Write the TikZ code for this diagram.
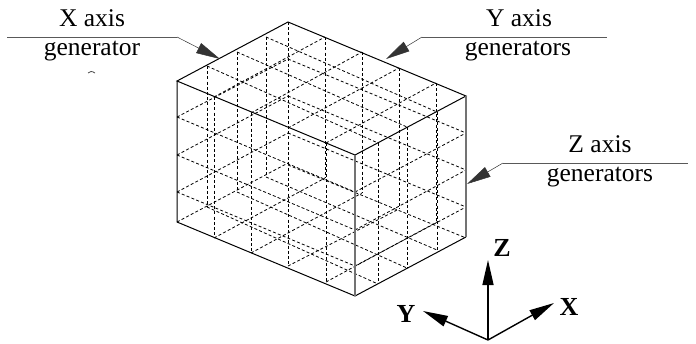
\documentclass[tikz,border=0pt]{standalone}
\usepackage{fontspec}
\setmainfont{Liberation Serif}
\usepackage{tikz}
\usetikzlibrary{arrows.meta}
\tikzset{
  gridline/.style={dash pattern=on 3pt off 2.2pt, line width=0.8pt, black},
  edgeline/.style={line width=1pt, black},
  greyedge/.style={line width=1.4pt, black!55},
  rulerline/.style={line width=1pt, black!65},
  leadarrow/.style={-{Triangle[length=24pt, width=11pt]}, line width=0.5pt, black!80},
  axisarrow/.style={-{Triangle[length=25pt, width=11pt]}, line width=1.4pt},
  calloutlabel/.style={font=\fontsize{25.5}{28}\selectfont, anchor=base, inner sep=0pt},
  axislabel/.style={font=\fontsize{26}{28}\selectfont\bfseries, inner sep=0pt}
}
\begin{document}
\begin{tikzpicture}[x=1pt, y=-1pt]
  \useasboundingbox (0,0) rectangle (696,343);
  % hidden grid: verticals
  \foreach \xa/\ya/\yb in {207/66/207, 237/52/192, 266/37/177, 288/22/266,
      325/37/178, 362/52/193, 399/68/209, 436/83/222,
      214/97/238, 251/113/253, 326/143/282,
      378/143/284, 407/127/268, 437/112/250}
    \draw[gridline] (\xa,\ya) -- (\xa,\yb);
  % hidden grid: sloped lines
  \foreach \xa/\ya/\xb/\yb in {
      177/117/355/192, 177/155/355/230, 177/192/355/266,
      288/59/466/133, 288/96/466/170, 288/133/466/207, 288/165/466/238,
      177/117/288/59, 177/155/288/96, 177/192/288/133, 177/222/288/163,
      355/192/466/133, 355/230/466/170, 355/266/466/207,
      214/97/325/37, 251/113/362/52, 288/128/399/68, 326/143/436/83,
      214/238/325/178, 251/253/362/193, 288/266/399/209, 326/282/437/222,
      207/66/378/143, 237/52/407/127, 266/37/437/112,
      207/207/378/284, 237/192/407/268, 266/177/437/250}
    \draw[gridline] (\xa,\ya) -- (\xb,\yb);
  % box corners
  \coordinate (lefttop) at (177,81);
  \coordinate (backtop) at (288,22);
  \coordinate (righttop) at (466,96);
  \coordinate (fronttop) at (355,155);
  \coordinate (leftbot) at (177,222);
  \coordinate (rightbot) at (466,237);
  \coordinate (frontbot) at (355,296);
  \draw[edgeline] (lefttop) -- (backtop) -- (righttop) -- (fronttop) -- cycle;
  \draw[edgeline] (lefttop) -- (leftbot) -- (frontbot) -- (rightbot);
  \draw[greyedge] (fronttop) -- (frontbot);
  \draw[greyedge] (righttop) -- (rightbot);
  % callouts
  \node[calloutlabel] (xaxis) at (92,26) {X axis};
  \node[calloutlabel] (xgen) at (92,55) {generator};
  \node[calloutlabel] (yaxis) at (519,26) {Y axis};
  \node[calloutlabel] (ygen) at (518,55) {generators};
  \node[calloutlabel] (zaxis) at (600,152) {Z axis};
  \node[calloutlabel] (zgen) at (600,181) {generators};
  \coordinate (xruleleft) at (7,37);
  \coordinate (xruleright) at (177,37);
  \coordinate (xtip) at (220,59);
  \coordinate (yruleleft) at (422,37);
  \coordinate (yruleright) at (607,37);
  \coordinate (ytip) at (386,59);
  \coordinate (zruleleft) at (503,163);
  \coordinate (zruleright) at (688,163);
  \coordinate (ztip) at (467,184);
  \draw[rulerline] (xruleleft) -- (xruleright);
  \draw[rulerline] (yruleleft) -- (yruleright);
  \draw[rulerline] (zruleleft) -- (zruleright);
  \draw[leadarrow] (xruleright) -- (xtip);
  \draw[leadarrow] (yruleleft) -- (ytip);
  \draw[leadarrow] (zruleleft) -- (ztip);
  \draw[line width=0.8pt, black!70] (88,73) .. controls (90,71) and (92,71) .. (95,73);
  % axes
  \coordinate (origin) at (488,340);
  \node[axislabel] (zlabel) at (502,248) {Z};
  \node[axislabel] (xlabel) at (569,307) {X};
  \node[axislabel] (ylabel) at (406,314) {Y};
  \coordinate (zend) at (488,260);
  \coordinate (xend) at (554,303);
  \coordinate (yend) at (423,311);
  \draw[axisarrow] (origin) -- (zend);
  \draw[axisarrow] (origin) -- (xend);
  \draw[axisarrow] (origin) -- (yend);
\end{tikzpicture}
\end{document}
